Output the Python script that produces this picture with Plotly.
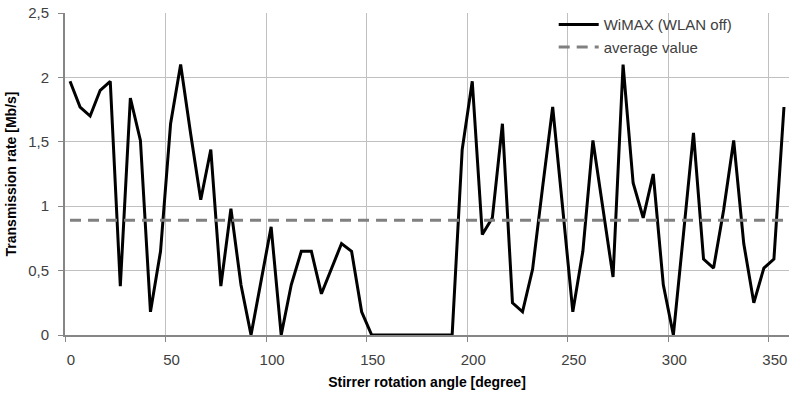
import plotly.graph_objects as go

angles = [2.5 + 5 * i for i in range(72)]
rate = [1.97, 1.77, 1.70, 1.90, 1.97, 0.38, 1.84, 1.51, 0.18, 0.65,
        1.64, 2.10, 1.56, 1.05, 1.44, 0.38, 0.98, 0.39, 0.00, 0.43,
        0.84, 0.00, 0.39, 0.65, 0.65, 0.32, 0.51, 0.71, 0.65, 0.18,
        0.00, 0.00, 0.00, 0.00, 0.00, 0.00, 0.00, 0.00, 0.00, 1.44,
        1.97, 0.78, 0.91, 1.64, 0.25, 0.18, 0.51, 1.15, 1.77, 0.98,
        0.18, 0.65, 1.51, 0.98, 0.45, 2.10, 1.18, 0.91, 1.25, 0.39,
        0.00, 0.78, 1.57, 0.59, 0.52, 0.97, 1.51, 0.71, 0.25, 0.52,
        0.59, 1.77]
avg_value = 0.89
avg_x = [2.5, 357.5]

x_ticks = [0, 50, 100, 150, 200, 250, 300, 350]
y_ticks = [0, 0.5, 1, 1.5, 2, 2.5]
y_ticktext = ["0", "0,5", "1", "1,5", "2", "2,5"]

FONT = "Liberation Sans, Arial"

fig = go.Figure()
fig.add_trace(go.Scatter(x=angles, y=rate, mode="lines", name="WiMAX (WLAN off)",
                         line=dict(color="black", width=3)))
fig.add_trace(go.Scatter(x=avg_x, y=[avg_value, avg_value], mode="lines",
                         name="average value",
                         line=dict(color="#808080", width=3, dash="11px,7px")))

fig.update_layout(
    width=789, height=396,
    margin=dict(l=65, r=0, t=13, b=61),
    paper_bgcolor="white", plot_bgcolor="white",
    font=dict(family=FONT, size=15, color="#404040"),
    showlegend=True,
    legend=dict(x=0.675, y=1.015, xanchor="left", yanchor="top",
                bgcolor="rgba(0,0,0,0)", font=dict(size=15, color="#404040"),
                tracegroupgap=0, itemwidth=40),
    xaxis=dict(range=[0, 360], tickvals=x_ticks, showgrid=True,
               gridcolor="#c0c0c0", gridwidth=1, showline=True,
               linecolor="#868686", linewidth=2, ticks="outside", ticklen=5,
               tickcolor="#868686", zeroline=False,
               ticklabelstandoff=5, ticklabelshift=6,
               title=dict(text="<b>Stirrer rotation angle [degree]</b>",
                          font=dict(size=14, color="black"), standoff=10)),
    yaxis=dict(range=[0, 2.5], tickvals=y_ticks, ticktext=y_ticktext,
               showgrid=True, gridcolor="#c0c0c0", gridwidth=1, showline=True,
               linecolor="#868686", linewidth=2, ticks="outside", ticklen=5,
               tickcolor="#868686", zeroline=False,
               ticklabelstandoff=6,
               title=dict(text="<b>Transmission rate [Mb/s]</b>",
                          font=dict(size=14, color="black"), standoff=8)),
)

fig.write_html("out.html")
